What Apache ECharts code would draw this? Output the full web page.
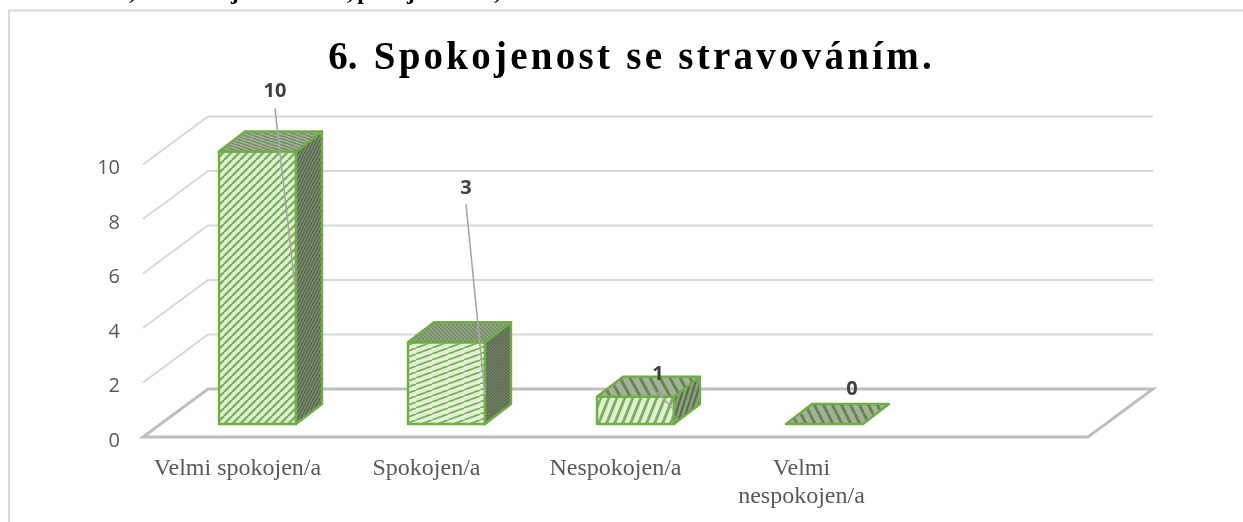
<!DOCTYPE html>
<html>
<head>
<meta charset="utf-8">
<script src="https://cdn.jsdelivr.net/npm/echarts@6/dist/echarts.min.js"></script>
<style>
  html, body { margin: 0; padding: 0; background: #fff; }
  #box { width: 1243px; height: 522px; }
</style>
</head>
<body>
<div id="box"></div>
<script>
const categories = ['Velmi spokojen/a', 'Spokojen/a', 'Nespokojen/a', 'Velmi\u00A0\nnespokojen/a\u00A0', ''];
const values = [10, 3, 1, 0];
const yTicks = [0, 2, 4, 6, 8, 10];
const titleText = '6.\u200A \u200AS\u200Ap\u200Ao\u200Ak\u200Ao\u200Aj\u200Ae\u200An\u200Ao\u200As\u200At\u200A \u200As\u200Ae\u200A \u200As\u200At\u200Ar\u200Aa\u200Av\u200Ao\u200Av\u200Aá\u200An\u200Aí\u200Am\u200A.';
// the cut off line of the page above the chart, only its descenders show
const cutOffGlyphs = [[',', 132], ['j', 235], [',', 350], ['p', 364], ['j', 411], [',', 497]];

// offsets from the bar's front top right corner
const labelOffsets = [[-21, -60], [-19, -154], [-16, -22], [-11, -35]];
const leaderOffsets = [[-21, -43, -1, 135], [-19, -138, 0, 53], [-17, -5, -1, 12], null];

// the 3d look of the excel chart, in pixels
const wallDx = 65, wallDy = 48;
const barDx = 26, barDy = 20;
const barLift = 13, barLeft = -18.5, barWidth = 77;

function hatch(w, h, bg, fg, lw, falling) {
  const c = document.createElement('canvas');
  c.width = w;
  c.height = h;
  const ctx = c.getContext('2d');
  ctx.fillStyle = bg;
  ctx.fillRect(0, 0, w, h);
  ctx.strokeStyle = fg;
  ctx.lineWidth = lw;
  for (let k = -1; k <= 1; k++) {
    ctx.beginPath();
    ctx.moveTo(k * w, falling ? 0 : h);
    ctx.lineTo(k * w + w, falling ? h : 0);
    ctx.stroke();
  }
  return { image: c, repeat: 'repeat' };
}

const frontFills = [
  hatch(8, 8, '#e2f0d9', '#7ab356', 2.3),
  hatch(16, 6, '#e2f0d9', '#7ab356', 1.8),
  hatch(8, 20, '#e2f0d9', '#7ab356', 3),
  hatch(8, 8, '#e2f0d9', '#7ab356', 2.3)
];
const topFills = [
  hatch(9, 3, '#a3ad9a', '#6f8c5c', 1.2, true),
  hatch(4, 4, '#98a48d', '#6f8c5c', 1.4, true),
  hatch(10, 18, '#a5af9c', '#63894a', 3, true),
  hatch(9, 18, '#a5af9c', '#63894a', 3, true)
];
const sideFills = [
  hatch(3, 6, '#7f8d74', '#56684c', 1.4),
  hatch(3, 3, '#7f8d74', '#56684c', 1.4),
  hatch(5, 16, '#8d9a83', '#547043', 2),
  hatch(5, 16, '#8d9a83', '#547043', 2)
];

function renderWall(params, api) {
  const v = api.value(1);
  const y = api.coord([0, v])[1];
  const left = params.coordSys.x;
  const right = left + params.coordSys.width;
  if (v === 0) {
    return {
      type: 'polygon',
      shape: { points: [[left, y], [left + wallDx, y - wallDy], [right + wallDx, y - wallDy], [right, y]] },
      style: { fill: 'none', stroke: '#bfbfbf', lineWidth: 3 }
    };
  }
  return {
    type: 'polyline',
    shape: { points: [[left, y], [left + wallDx, y - wallDy], [right + wallDx, y - wallDy]] },
    style: { fill: 'none', stroke: '#d9d9d9', lineWidth: 2 }
  };
}

function renderBar(params, api) {
  const i = params.dataIndex;
  const base = api.coord([i, 0]);
  const top = api.coord([i, api.value(1)]);
  const x0 = base[0] + barLeft;
  const x1 = x0 + barWidth;
  const y0 = base[1] - barLift;
  const y1 = top[1] - barLift;
  const edge = { stroke: '#70ad47', lineWidth: 2.4, lineJoin: 'round' };
  const children = [];
  if (y0 - y1 > 0) {
    children.push({
      type: 'polygon',
      shape: { points: [[x0, y1], [x1, y1], [x1, y0], [x0, y0]] },
      style: Object.assign({ fill: frontFills[i] }, edge)
    });
    children.push({
      type: 'polygon',
      shape: { points: [[x1, y1], [x1 + barDx, y1 - barDy], [x1 + barDx, y0 - barDy], [x1, y0]] },
      style: Object.assign({ fill: sideFills[i] }, edge)
    });
  }
  children.push({
    type: 'polygon',
    shape: { points: [[x0, y1], [x0 + barDx, y1 - barDy], [x1 + barDx, y1 - barDy], [x1, y1]] },
    style: Object.assign({ fill: topFills[i] }, edge)
  });
  const lead = leaderOffsets[i];
  if (lead) {
    children.push({
      type: 'line',
      shape: { x1: x1 + lead[0], y1: y1 + lead[1], x2: x1 + lead[2], y2: y1 + lead[3] },
      style: { stroke: '#a6a6a6', lineWidth: 1.6 }
    });
  }
  children.push({
    type: 'text',
    style: {
      text: String(api.value(1)),
      x: x1 + labelOffsets[i][0],
      y: y1 + labelOffsets[i][1],
      align: 'center',
      verticalAlign: 'middle',
      font: 'bold 20px "Open Sans"',
      fill: '#404040'
    }
  });
  return { type: 'group', children: children };
}

const myChart = echarts.init(document.getElementById('box'));
const option = {
  animation: false,
  backgroundColor: '#fff',
  title: {
    text: titleText,
    left: 625,
    top: 34,
    textAlign: 'center',
    textStyle: { fontFamily: 'Liberation Serif', fontWeight: 'bold', fontSize: 39, color: '#000' }
  },
  graphic: [
    {
      type: 'rect',
      silent: true,
      shape: { x: 9, y: 10.5, width: 1400, height: 700 },
      style: { fill: 'none', stroke: '#d9d9d9', lineWidth: 2 }
    }
  ].concat(cutOffGlyphs.map(g => ({
    type: 'text',
    silent: true,
    style: {
      text: g[0],
      x: g[1],
      y: 5,
      align: 'center',
      verticalAlign: 'bottom',
      font: 'bold 24px Liberation Serif',
      fill: '#000'
    }
  }))),
  grid: { left: 143, width: 945, top: 164.5, height: 272.5 },
  xAxis: {
    type: 'category',
    data: categories,
    axisLine: { show: false },
    axisTick: { show: false },
    axisLabel: {
      interval: 0,
      margin: 18,
      fontFamily: 'Liberation Serif',
      fontSize: 24,
      lineHeight: 28,
      color: '#595959'
    }
  },
  yAxis: {
    type: 'value',
    min: 0,
    max: 10,
    interval: 2,
    axisLine: { show: false },
    axisTick: { show: false },
    splitLine: { show: false },
    axisLabel: { margin: 23, verticalAlign: 'top', lineHeight: 8, fontFamily: 'Open Sans', fontSize: 20, color: '#595959' }
  },
  series: [
    {
      type: 'custom',
      silent: true,
      z: 1,
      renderItem: renderWall,
      encode: { x: 0, y: 1 },
      data: yTicks.map(v => [0, v])
    },
    {
      type: 'custom',
      silent: true,
      z: 2,
      renderItem: renderBar,
      encode: { x: 0, y: 1 },
      data: values.map((v, i) => [i, v])
    }
  ]
};
myChart.setOption(option);
</script>
</body>
</html>
